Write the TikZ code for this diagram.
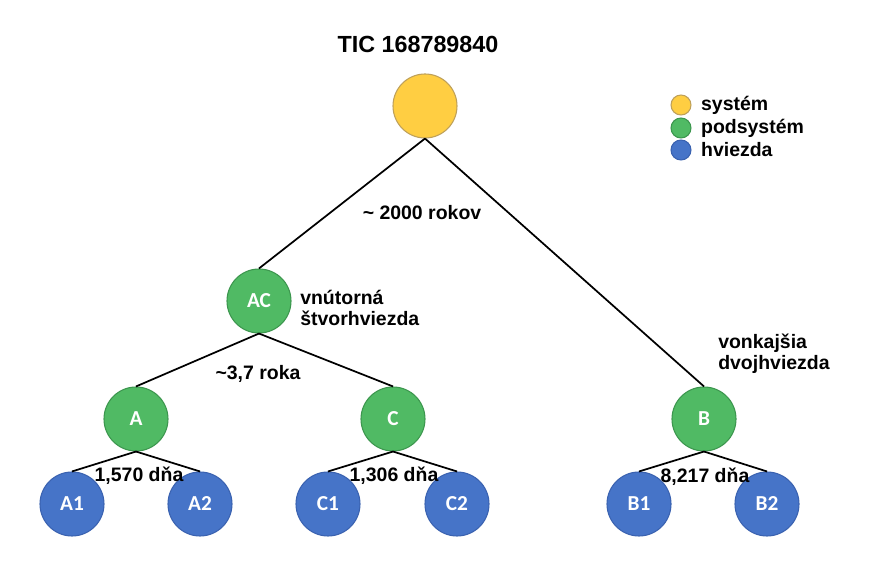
\documentclass[tikz,border=0pt]{standalone}
\usepackage{fontspec}
\setmainfont{Liberation Sans}
\newfontfamily\starfont{Carlito}
\usepackage{tikz}
\usetikzlibrary{positioning}

\definecolor{sysfill}{RGB}{255,206,66}
\definecolor{sysdraw}{RGB}{190,160,90}
\definecolor{subfill}{RGB}{80,186,100}
\definecolor{subdraw}{RGB}{60,150,78}
\definecolor{starfill}{RGB}{70,116,200}
\definecolor{stardraw}{RGB}{58,98,176}

\tikzset{
  body/.style={circle, minimum size=48pt, inner sep=0pt, line width=0.8pt,
    text=white, font=\starfont\bfseries\fontsize{16}{18}\selectfont},
  sysbody/.style={body, fill=sysfill, draw=sysdraw},
  subbody/.style={body, fill=subfill, draw=subdraw},
  starbody/.style={body, fill=starfill, draw=stardraw},
  keydot/.style={circle, minimum size=15pt, inner sep=0pt, line width=0.8pt},
  period/.style={font=\bfseries\fontsize{14.6}{18}\selectfont, inner sep=1pt},
  note/.style={font=\bfseries\fontsize{14.6}{18}\selectfont, align=left, anchor=west, inner sep=0pt},
  orbit/.style={line width=1.3pt}
}

\begin{document}
\begin{tikzpicture}[x=0.75pt,y=-0.75pt]
  \useasboundingbox (0,0) rectangle (872,566);
  % Title
  \node (title) [font=\bfseries\fontsize{17.5}{20}\selectfont] at (418,44) {TIC 168789840};
  % Draw the bodies
  \node (sys) [sysbody] at (425,106) {};
  \node (AC) [subbody] at (259,301) {AC};
  \node (A) [subbody] at (136,419) {A};
  \node (C) [subbody] at (393,419) {C};
  \node (B) [subbody] at (704,419) {B};
  \node (A1) [starbody] at (72,504) {A1};
  \node (A2) [starbody] at (200,504) {A2};
  \node (C1) [starbody] at (328,504) {C1};
  \node (C2) [starbody] at (457,504) {C2};
  \node (B1) [starbody] at (639,504) {B1};
  \node (B2) [starbody] at (767,504) {B2};
  % Draw the orbits
  \draw[orbit] (sys.south) -- (AC.north);
  \draw[orbit] (sys.south) -- (B.north);
  \draw[orbit] (AC.south) -- (A.north);
  \draw[orbit] (AC.south) -- (C.north);
  \draw[orbit] (A.south) -- (A1.north);
  \draw[orbit] (A.south) -- (A2.north);
  \draw[orbit] (C.south) -- (C1.north);
  \draw[orbit] (C.south) -- (C2.north);
  \draw[orbit] (B.south) -- (B1.north);
  \draw[orbit] (B.south) -- (B2.north);
  % Periods
  \node (pSys) [period] at (422,213) {\textasciitilde{} 2000 rokov};
  \node (pAC) [period] at (258,374) {\textasciitilde3,7 roka};
  \node (pA) [period] at (139,476) {1,570 dňa};
  \node (pC) [period] at (394,476) {1,306 dňa};
  \node (pB) [period] at (705,477) {8,217 dňa};
  % Notes
  \node (nAC) [note] at (300,308) {vnútorná\\[-2pt]štvorhviezda};
  \node (nB) [note] at (718,354) {vonkajšia\\[-2pt]dvojhviezda};
  % Legend
  \node (k1) [keydot, fill=sysfill, draw=sysdraw] at (681,105) {};
  \node (k2) [keydot, fill=subfill, draw=subdraw] at (681,128) {};
  \node (k3) [keydot, fill=starfill, draw=stardraw] at (681,150) {};
  \node (t1) [note, right=7pt of k1] {systém};
  \node (t2) [note, right=7pt of k2] {podsystém};
  \node (t3) [note, right=7pt of k3] {hviezda};
\end{tikzpicture}
\end{document}
